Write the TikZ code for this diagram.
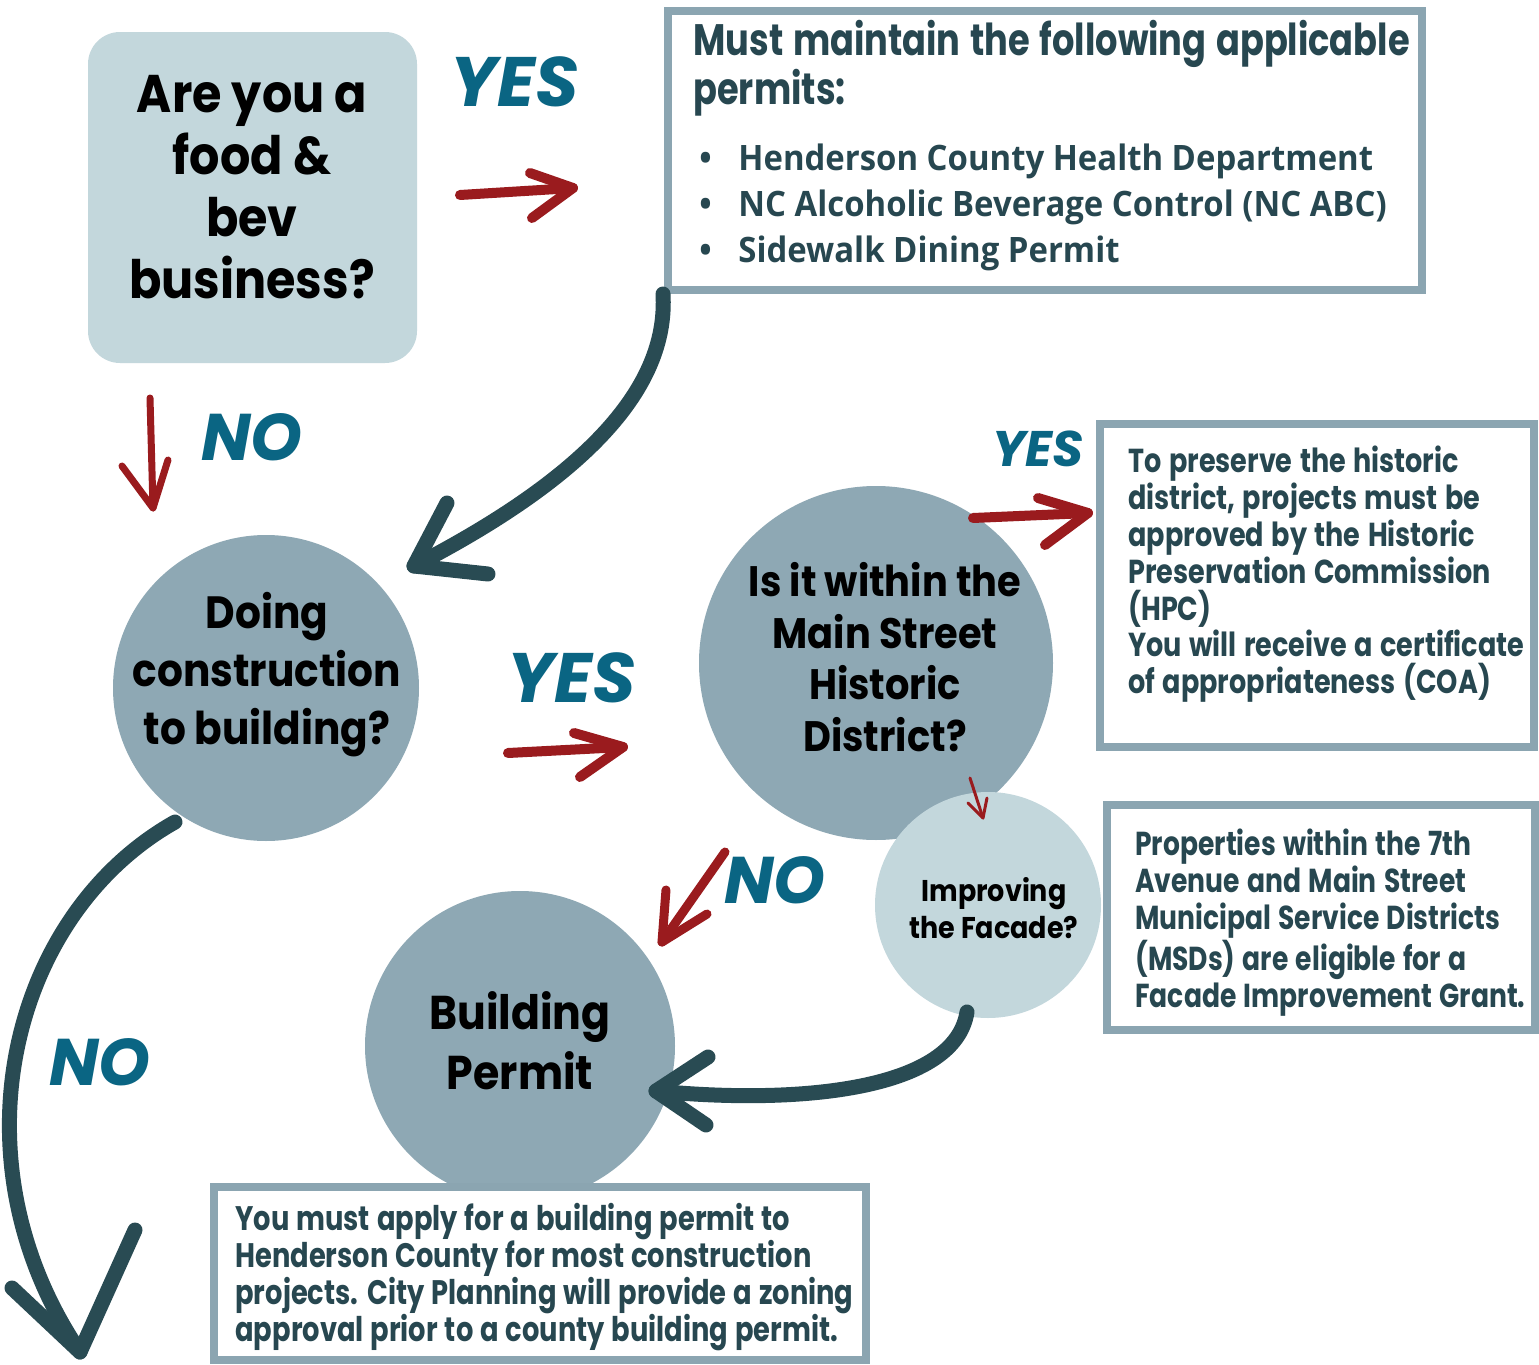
\documentclass[tikz,border=0pt]{standalone}
\usepackage{fontspec}
\usetikzlibrary{fit}
\setmainfont{Poppins}
\newfontfamily\qfont{Poppins}[FakeStretch=0.9]
\newfontfamily\bfont{Poppins}[FakeStretch=0.8,WordSpace=1.3]
\newfontfamily\hpcfont{Poppins}[FakeStretch=0.815,WordSpace=1.3]
\newfontfamily\cfont{Poppins}[FakeStretch=0.803,WordSpace=1.2]
\newfontfamily\ofont{Open Sans}[FakeStretch=0.94]
\newfontfamily\hfont{Poppins}
\definecolor{lightfill}{HTML}{C3D7DC}
\definecolor{circfill}{HTML}{8EA8B4}
\definecolor{boxline}{HTML}{8BA5B1}
\definecolor{arrdark}{HTML}{294B53}
\definecolor{arrred}{HTML}{9A1B1E}
\definecolor{ansblue}{HTML}{0A6583}
\definecolor{boxtext}{HTML}{274750}
\begin{document}
\begin{tikzpicture}[x=0.5pt,y=-0.5pt,
  question/.style={text=black, align=center, inner sep=0pt},
  infotext/.style={text=boxtext, align=left, inner sep=0pt, anchor=north west},
  infobox/.style={draw=boxline, line width=4pt, fill=white, inner sep=0pt},
  circnode/.style={circle, inner sep=0pt},
  answer/.style={font=\hfont\bfseries\itshape, text=ansblue, inner sep=0pt},
  redarrow/.style={draw=arrred, line width=5pt, line cap=round, line join=round},
  darkarrow/.style={draw=arrdark, line width=7.5pt, line cap=round, line join=round}]
\useasboundingbox (0,0) rectangle (1539,1365);
\fill[white] (0,0) rectangle (1539,1365);

% ---- shapes ----
\node[fit={(88,32) (417,363)}, rounded corners=16pt, fill=lightfill, inner sep=0pt] (food) {};
\node[infobox, fit={(668,11) (1422,290)}] (permits) {};
\node[circnode, fill=circfill, minimum size=153pt] (doing) at (266,688) {};
\node[circnode, fill=circfill, minimum size=177pt] (district) at (876,663) {};
\node[circnode, fill=lightfill, minimum size=113pt] (facade) at (988,905) {};
\node[infobox, fit={(1100,424) (1534,747)}] (hpc) {};
\node[infobox, fit={(1107,805) (1535,1030)}] (msd) {};
\node[circnode, fill=circfill, minimum size=155pt] (building) at (520,1046) {};
\node[infobox, fit={(214,1187) (866,1360)}] (county) {};

% ---- question texts ----
\node[question, font=\qfont\bfseries\fontsize{26.5}{31}\selectfont] (foodq) at (252,187)
  {Are you a\\food \&\\bev\\business?};
\node[question, font=\qfont\bfseries\fontsize{22.6}{29}\selectfont] (doingq) at (267,675)
  {Doing\\construction\\to building?};
\node[question, font=\qfont\bfseries\fontsize{21.3}{25.8}\selectfont] (districtq) at (885,657)
  {Is it within the\\Main Street\\Historic\\District?};
\node[question, font=\qfont\bfseries\fontsize{15}{18.5}\selectfont] (facadeq) at (994,908)
  {Improving\\the Facade?};
\node[question, font=\qfont\bfseries\fontsize{23.7}{30}\selectfont] (buildingq) at (520,1041)
  {Building\\Permit};

% ---- info texts ----
\node[infotext, font=\bfont\bfseries\fontsize{22}{23}\selectfont] (permitst) at (693,20)
  {Must maintain the following applicable\\permits:};
\node[infotext, font=\ofont\bfseries\fontsize{17.5}{23}\selectfont] (permitsl) at (699,144)
  {\makebox[19.5pt][l]{\textbullet}Henderson County Health Department\\
   \makebox[19.5pt][l]{\textbullet}NC Alcoholic Beverage Control (NC ABC)\\
   \makebox[19.5pt][l]{\textbullet}Sidewalk Dining Permit};
\node[infotext, font=\hpcfont\bfseries\fontsize{16.6}{18.5}\selectfont] (hpct) at (1128,445)
  {To preserve the historic\\district, projects must be\\approved by the Historic\\Preservation Commission\\(HPC)\\You will receive a certificate\\of appropriateness (COA)};
\node[infotext, font=\bfont\bfseries\fontsize{16.6}{18.5}\selectfont] (msdt) at (1135,828)
  {Properties within the 7th\\Avenue and Main Street\\Municipal Service Districts\\(MSDs) are eligible for a\\Facade Improvement Grant.};
\node[infotext, font=\cfont\bfseries\fontsize{17}{18.5}\selectfont] (countyt) at (235,1203)
  {You must apply for a building permit to\\Henderson County for most construction\\projects. City Planning will provide a zoning\\approval prior to a county building permit.};

% ---- answer labels ----
\node[answer, font=\hfont\bfseries\itshape\fontsize{35}{35}\selectfont] (yes1) at (515,82) {YES};
\node[answer, font=\hfont\bfseries\itshape\fontsize{33}{33}\selectfont] (no1) at (252,437) {NO};
\node[answer, font=\hfont\bfseries\itshape\fontsize{35}{35}\selectfont] (yes2) at (572,678) {YES};
\node[answer, font=\hfont\bfseries\itshape\fontsize{25}{25}\selectfont] (yes3) at (1038,449) {YES};
\node[answer, font=\hfont\bfseries\itshape\fontsize{33}{33}\selectfont] (no3) at (775,880) {NO};
\node[answer, font=\hfont\bfseries\itshape\fontsize{33}{33}\selectfont] (no4) at (100,1062) {NO};

% ---- connector end points ----
\coordinate (y1s) at (460,195); \coordinate (y1t) at (573,188);
\coordinate (y1a) at (530,173); \coordinate (y1b) at (532,218);
\coordinate (bs) at (663,294); \coordinate (bt) at (414,566);
\coordinate (ba) at (447,503); \coordinate (bb) at (488,574);
\coordinate (cs) at (150,398); \coordinate (ct) at (153,508);
\coordinate (ca) at (122,466); \coordinate (cb) at (168,460);
\coordinate (ds) at (508,753); \coordinate (dt) at (623,747);
\coordinate (da) at (574,733); \coordinate (db) at (580,777);
\coordinate (es) at (973,518); \coordinate (et) at (1088,513);
\coordinate (ea) at (1038,498); \coordinate (eb) at (1045,545);
\coordinate (fs) at (970,778); \coordinate (ft) at (983,818);
\coordinate (fa) at (968,803); \coordinate (fb) at (987,798);
\coordinate (gs) at (725,852); \coordinate (gt) at (662,942);
\coordinate (ga) at (666,890); \coordinate (gb) at (707,914);
\coordinate (hs) at (967,1012); \coordinate (ht) at (656,1091);
\coordinate (ha) at (708,1057); \coordinate (hb) at (706,1125);
\coordinate (is) at (175,822); \coordinate (it) at (80,1352);
\coordinate (ia) at (12,1288); \coordinate (ib) at (135,1230);

% ---- connectors ----
\draw[redarrow] (y1s) -- (y1t); \draw[redarrow] (y1a) -- (y1t) -- (y1b);
\draw[darkarrow] (bs) .. controls (668,380) and (600,470) .. (bt);
\draw[darkarrow] (ba) -- (bt) -- (bb);
\draw[redarrow, line width=3.5pt] (cs) -- (ct); \draw[redarrow, line width=3.5pt] (ca) -- (ct) -- (cb);
\draw[redarrow] (ds) -- (dt); \draw[redarrow] (da) -- (dt) -- (db);
\draw[redarrow] (es) -- (et); \draw[redarrow] (ea) -- (et) -- (eb);
\draw[redarrow, line width=1.5pt] (fs) -- (ft); \draw[redarrow, line width=1.5pt] (fa) -- (ft) -- (fb);
\draw[redarrow, line width=4.5pt] (gs) -- (gt); \draw[redarrow, line width=4.5pt] (ga) -- (gt) -- (gb);
\draw[darkarrow] (hs) .. controls (955,1090) and (800,1105) .. (ht);
\draw[darkarrow] (ha) -- (ht) -- (hb);
\draw[darkarrow] (is) .. controls (10,915) and (-50,1160) .. (it);
\draw[darkarrow] (ia) -- (it) -- (ib);
\end{tikzpicture}
\end{document}
